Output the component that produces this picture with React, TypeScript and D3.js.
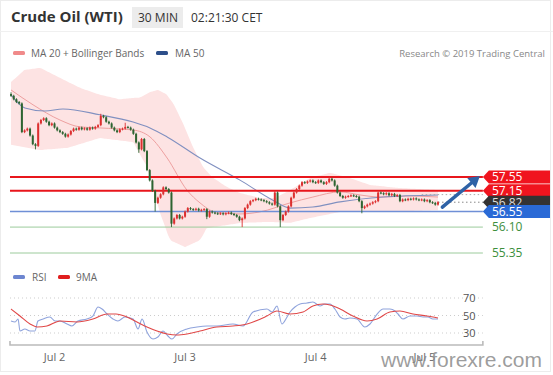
import React from 'react';
import * as d3 from 'd3';

// ---------- DATA ----------
const firstOpen = 59.95;
const closes: number[] = [
  59.9, 59.8, 59.72, 59.68, 58.85, 58.9, 58.95, 58.75, 58.5, 58.45,
  59.1, 59.2, 59.25, 59.15, 59.05, 59.1, 58.98, 58.9, 58.85, 58.8,
  58.72, 58.78, 58.88, 58.95, 58.92, 58.98, 58.93, 58.96, 58.92, 58.98,
  58.95, 59.0, 59.05, 59.32, 59.28, 59.15, 59.1, 58.98, 58.9, 58.85,
  58.93, 58.95, 59.0, 58.98, 58.92, 58.8, 58.55, 58.35, 58.65, 58.3,
  57.75, 57.45, 57.15, 56.8, 56.95, 57.05, 57.25, 57.2, 57.1, 56.2,
  56.35, 56.45, 56.35, 56.4, 56.55, 56.65, 56.62, 56.6, 56.63, 56.58,
  56.6, 56.62, 56.4, 56.55, 56.52, 56.5, 56.48, 56.5, 56.47, 56.5,
  56.52, 56.48, 56.45, 56.4, 56.3, 56.35, 56.65, 56.75, 56.85, 56.88,
  56.92, 56.9, 56.88, 56.85, 56.82, 56.78, 56.75, 57.1, 56.7, 56.3,
  56.45, 56.55, 56.7, 56.95, 57.1, 57.2, 57.3, 57.4, 57.38, 57.42,
  57.45, 57.4, 57.38, 57.45, 57.4, 57.35, 57.4, 57.5, 57.45, 57.3,
  57.1, 57.0, 56.95, 56.98, 57.0, 57.02, 57.0, 56.98, 56.85, 56.65,
  56.7, 56.75, 56.78, 56.82, 56.85, 57.1, 57.08, 57.05, 57.08, 57.02,
  57.06, 57.0, 57.03, 56.85, 56.9, 56.88, 56.92, 56.9, 56.93, 56.9,
  56.88, 56.9, 56.85, 56.88, 56.82, 56.8, 56.75, 56.82,
];
const lowWicks: [number, number][] = [
  [9, 58.35], [47, 58.25], [53, 56.55], [59, 56.1], [72, 56.33], [85, 56.1], [99, 56.1], [129, 56.5],
];
const highWicks: [number, number][] = [
  [0, 60.0], [33, 59.38], [42, 59.12], [97, 57.15], [117, 57.56],
];

const bbUpper: [number, number][] = [
  [0, 60.3], [5, 60.65], [10.7, 60.71], [18, 60.42], [25.4, 60.13], [32.7, 59.93], [40, 59.8],
  [47.4, 59.85], [51.1, 60.01], [54, 60.07], [57, 59.95], [59.6, 59.69], [63.2, 59.11], [66.9, 58.42],
  [70.6, 57.84], [73.9, 57.55], [79.4, 57.26], [84.2, 57.09], [91.5, 56.94], [97, 56.94],
  [102.6, 57.17], [109.9, 57.52], [117.3, 57.67], [124.6, 57.52], [132, 57.32], [143, 57.23], [157, 57.17],
];
const bbLower: [number, number][] = [
  [0, 58.48], [10.7, 58.33], [20.6, 58.39], [32.7, 58.68], [44.9, 58.56], [50, 57.84], [54.8, 56.51],
  [58.5, 55.72], [64, 55.52], [69.5, 55.72], [72, 56.07], [84.2, 56.22], [95.2, 56.25], [102.6, 56.22],
  [109.9, 56.36], [121, 56.54], [135.7, 56.54], [157, 56.59],
];
const ma20: [number, number][] = [
  [0, 60.07], [8.1, 59.64], [18, 59.2], [25.4, 59.0], [32.7, 58.97], [44.9, 58.91], [51.1, 58.71],
  [57.4, 58.1], [64.7, 57.17], [69.5, 56.8], [75, 56.54], [84.2, 56.48], [91.5, 56.54], [102.6, 56.8],
  [111, 56.97], [121, 57.12], [128.3, 57.03], [135.7, 56.97], [146.7, 57.0], [157, 56.97],
];
const ma50: [number, number][] = [
  [0, 59.93], [5.1, 59.55], [12.5, 59.46], [19.1, 59.52], [32.7, 59.35], [44.9, 59.14], [51.1, 58.97],
  [57.4, 58.71], [69.5, 58.1], [84.2, 57.46], [96.3, 56.88], [102.6, 56.65], [111, 56.68], [121, 56.83],
  [136.8, 56.97], [157, 57.03],
];

const rsi: [number, number][] = [
  [0, 43.7], [1.5, 42.6], [2.6, 46], [3.3, 32.3], [5.1, 34.6], [7, 32.3], [8.8, 32.3], [9.9, 43.7],
  [11.8, 46], [14.3, 48.3], [16.2, 43.7], [18, 43.7], [20.6, 40.3], [22.4, 38], [24.6, 43.7], [27.9, 46],
  [30.1, 49.4], [32, 59.7], [33.5, 57.4], [35.3, 51.7], [37.5, 46], [39.3, 43.7], [41.9, 48.3], [44.9, 46],
  [46.7, 34.6], [48.2, 46], [50, 31.1], [52.2, 23.1], [54, 25.4], [55.9, 32.3], [57.7, 26.6], [59.2, 23.1],
  [61, 28.9], [64.7, 34.6], [68.4, 36.9], [72.1, 38], [75.7, 38], [81.6, 40.3], [85.3, 38], [89, 54],
  [94.1, 57.4], [96, 54], [97.8, 60.9], [99.6, 40.3], [101.5, 48.3], [102.6, 54], [104.4, 59.7], [106.3, 63.1],
  [108.8, 64.3], [111, 65.4], [113.6, 60.9], [115.4, 63.1], [117.3, 63.1], [119.1, 57.4], [121, 48.3],
  [122.8, 46], [124.6, 47.1], [127.2, 46], [130.1, 36.9], [132, 40.3], [134.6, 51.7], [136.8, 57.4],
  [139.3, 57.4], [141.2, 55.1], [142.3, 51.7], [144.1, 46], [146.7, 49.4], [149.3, 49.4], [151.5, 48.3],
  [153.3, 48.3], [155.1, 46], [157, 46],
];
const rsiMA: [number, number][] = [
  [0, 57.4], [3.3, 49.4], [7, 40.3], [9.6, 36.9], [13.2, 38], [18, 43.7], [24.3, 42.6], [30.1, 46],
  [35.3, 51.7], [38.6, 51.7], [42.6, 48.3], [46.3, 42.6], [50, 36.9], [53.7, 32.3], [57.4, 28.9],
  [61, 27.7], [64.7, 28.9], [69.5, 32.3], [75.7, 36.9], [81.6, 38], [86.8, 40.3], [94.1, 49.4],
  [97.8, 55.1], [102.6, 51.7], [107.4, 54], [111, 60.9], [114.7, 63.1], [117.3, 62], [121, 57.4],
  [125.7, 49.4], [130.9, 43.7], [134.6, 46], [139.3, 54], [143, 55.1], [147.8, 51.7], [152.9, 49.4], [157, 47.1],
];

const resistances = [57.55, 57.15];
const lastPrice = 56.82;
const pivot = 56.55;
const supports = [56.1, 55.35];
const rsiTicks = [70, 50, 30];
const dayTicks: [number, string][] = [[16, 'Jul 2'], [64, 'Jul 3'], [112, 'Jul 4'], [152, 'Jul 5']];
const arrowFrom: [number, number] = [158.6, 56.68];
const arrowTo: [number, number] = [172.4, 57.58];

// ---------- CHART ----------
const W = 553, H = 375;
const FONT = "'Open Sans', 'DejaVu Sans', sans-serif";

export default function App() {
  const x = d3.scaleLinear().domain([0, 157]).range([11, 438]);
  const xEnd = x(173.5);
  const xStart = x(-0.37);
  const y = d3.scaleLinear().domain([55.35, 57.55]).range([253, 177]);
  const yr = d3.scaleLinear().domain([30, 70]).range([333, 298]);

  const band = d3.area<number>()
    .x((d) => x(d))
    .y0((d) => y(interp(bbLower, d)))
    .y1((d) => y(interp(bbUpper, d)))
    .curve(d3.curveMonotoneX);
  const bandIdx = d3.range(0, 157.01, 1);

  const line = d3.line<[number, number]>().x((d) => x(d[0])).y((d) => y(d[1])).curve(d3.curveMonotoneX);
  const rline = d3.line<[number, number]>().x((d) => x(d[0])).y((d) => yr(d[1])).curve(d3.curveMonotoneX);

  const candles = closes.map((c, i) => {
    const o = i === 0 ? firstOpen : closes[i - 1];
    const lw = lowWicks.find((w) => w[0] === i);
    const hw = highWicks.find((w) => w[0] === i);
    const hi = hw ? hw[1] : Math.max(o, c) + 0.03;
    const lo = lw ? lw[1] : Math.min(o, c) - 0.03;
    return { i, o, c, hi, lo };
  });

  const ax0 = x(arrowFrom[0]), ay0 = y(arrowFrom[1]);
  const ax1 = x(arrowTo[0]), ay1 = y(arrowTo[1]);
  const ang = Math.atan2(ay1 - ay0, ax1 - ax0);
  const headL = 11, headW = 6.5;
  const bx = ax1 - headL * Math.cos(ang), by = ay1 - headL * Math.sin(ang);
  const head = `M${ax1},${ay1} L${bx + headW * Math.sin(ang)},${by - headW * Math.cos(ang)} L${bx - headW * Math.sin(ang)},${by + headW * Math.cos(ang)} Z`;

  const tag = (v: number, fill: string, color: string) => {
    const cy = y(v);
    const x0 = xEnd, h = 6.5;
    return (
      <g key={'tag' + v}>
        <path d={`M${x0},${cy} L${x0 + 6},${cy - h} L550,${cy - h} L550,${cy + h} L${x0 + 6},${cy + h} Z`} fill={fill} />
        <text x={x0 + 9} y={cy + 4.3} fontSize={12} fill={color} fontFamily={FONT}>{v.toFixed(2)}</text>
      </g>
    );
  };

  return (
    <svg width={W} height={H} style={{ position: 'fixed', left: 0, top: 0, background: '#fff' }}>
      <rect x={0.5} y={0.5} width={W - 3} height={H - 4} fill="#fff" stroke="#ececec" />
      {/* header */}
      <text x={11} y={22} fontSize={15} fontWeight="bold" fill="#333" fontFamily={FONT}>Crude Oil (WTI)</text>
      <rect x={132} y={7} width={51} height={21} fill="#ececec" />
      <text x={138} y={22} fontSize={12} fill="#333" fontFamily={FONT}>30 MIN</text>
      <text x={191} y={22} fontSize={12} fill="#333" fontFamily={FONT}>02:21:30 CET</text>
      <line x1={0} x2={W} y1={31.5} y2={31.5} stroke="#f0f0f0" />
      {/* legend */}
      <rect x={13} y={51} width={12} height={4} rx={1.5} fill="#f08a8a" />
      <text x={31} y={57} fontSize={10} fill="#666" fontFamily={FONT}>MA 20 + Bollinger Bands</text>
      <rect x={156} y={51} width={12} height={4} rx={1.5} fill="#2d4f8a" />
      <text x={175} y={57} fontSize={10} fill="#666" fontFamily={FONT}>MA 50</text>
      <text x={545} y={57} fontSize={9.5} fill="#888" textAnchor="end" fontFamily={FONT}>Research © 2019 Trading Central</text>

      {/* bollinger */}
      <path d={band(bandIdx) || ''} fill="#fde3e3" />
      <path d={line(ma20) || ''} fill="none" stroke="#eea0a0" strokeWidth={1} />
      <path d={line(ma50) || ''} fill="none" stroke="#8090c0" strokeWidth={1.1} />

      {/* levels */}
      {supports.map((v) => (
        <line key={v} x1={xStart} x2={xEnd} y1={y(v)} y2={y(v)} stroke="#9ccb9c" strokeWidth={1} />
      ))}
      <line x1={xStart} x2={xEnd} y1={y(pivot)} y2={y(pivot)} stroke="#6f8fd6" strokeWidth={1.5} />
      {resistances.map((v) => (
        <line key={v} x1={xStart} x2={xEnd} y1={y(v)} y2={y(v)} stroke="#e8161c" strokeWidth={2} />
      ))}
      <line x1={x(151)} x2={xEnd} y1={y(57.04)} y2={y(57.04)} stroke="#aaa" strokeDasharray="1.5,2.5" />
      <line x1={x(157)} x2={xEnd} y1={y(lastPrice)} y2={y(lastPrice)} stroke="#888" strokeDasharray="1.5,2.5" />

      {/* candles */}
      {candles.map((d) => {
        const up = d.c >= d.o;
        const col = up ? '#dc2f2f' : '#2d6431';
        const top = y(Math.max(d.o, d.c)), bot = y(Math.min(d.o, d.c));
        return (
          <g key={d.i}>
            <line x1={x(d.i)} x2={x(d.i)} y1={y(d.hi)} y2={y(d.lo)} stroke={col} strokeWidth={0.9} />
            <rect x={x(d.i) - 1} y={top} width={2} height={Math.max(1, bot - top)} fill={col} />
          </g>
        );
      })}

      {/* arrow */}
      <line x1={ax0} y1={ay0} x2={bx} y2={by} stroke="#2e62a6" strokeWidth={3.5} strokeLinecap="round" />
      <path d={head} fill="#2e62a6" />

      {/* tags */}
      {tag(resistances[0], '#f0141e', '#fff')}
      {tag(resistances[1], '#f0141e', '#fff')}
      {tag(lastPrice, '#333', '#ddd')}
      {tag(pivot, '#2a6ad6', '#fff')}
      {supports.map((v) => (
        <text key={'s' + v} x={xEnd + 9} y={y(v) + 4.3} fontSize={12} fill="#3d8f3d" fontFamily={FONT}>{v.toFixed(2)}</text>
      ))}

      {/* RSI panel */}
      <rect x={13} y={275} width={12} height={4} rx={1.5} fill="#6d86d0" />
      <text x={32} y={281} fontSize={10} fill="#666" fontFamily={FONT}>RSI</text>
      <rect x={58} y={275} width={12} height={4} rx={1.5} fill="#e01e1e" />
      <text x={76} y={281} fontSize={10} fill="#666" fontFamily={FONT}>9MA</text>
      {rsiTicks.map((t) => (
        <g key={t}>
          <line x1={xStart} x2={xEnd} y1={yr(t)} y2={yr(t)} stroke="#ccc" strokeDasharray="1,3" />
          <text x={xEnd - 20} y={yr(t) + 4} fontSize={11} fill="#555" fontFamily={FONT}>{t}</text>
        </g>
      ))}
      <path d={rline(rsi) || ''} fill="none" stroke="#8fa3dc" strokeWidth={1.1} />
      <path d={rline(rsiMA) || ''} fill="none" stroke="#e04848" strokeWidth={1.1} />

      {/* axis */}
      <path d={`M${xStart},341 V345 H${xEnd} V341`} fill="none" stroke="#bbb" strokeWidth={1.6} />
      {dayTicks.map(([i, l]) => (
        <text key={l} x={x(i)} y={361} fontSize={11} fill="#666" textAnchor="middle" fontFamily={FONT}>{l}</text>
      ))}

      <text x={381} y={367} fontSize={21} fill="#8c8c8c" fillOpacity={0.85} fontFamily="'Liberation Sans', Arial, sans-serif">www.forexre.com</text>
    </svg>
  );
}

function interp(arr: [number, number][], t: number): number {
  if (t <= arr[0][0]) return arr[0][1];
  for (let k = 1; k < arr.length; k++) {
    if (t <= arr[k][0]) {
      const [a0, v0] = arr[k - 1];
      const [a1, v1] = arr[k];
      return v0 + ((t - a0) / (a1 - a0)) * (v1 - v0);
    }
  }
  return arr[arr.length - 1][1];
}
